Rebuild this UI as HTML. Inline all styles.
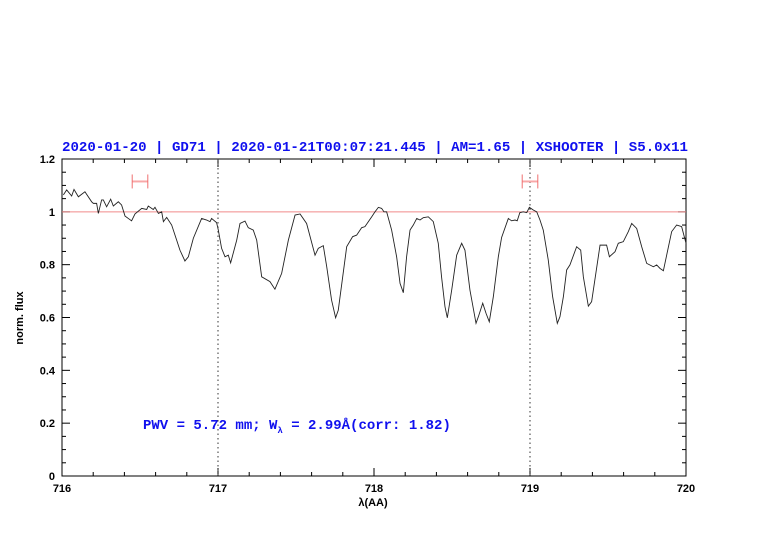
<!DOCTYPE html>
<html><head><meta charset="utf-8">
<style>
html,body{margin:0;padding:0;background:#fff;}
svg{display:block;}
</style></head>
<body>
<svg id="chart" width="782" height="542" viewBox="0 0 782 542" xmlns="http://www.w3.org/2000/svg" font-family="Liberation Sans, sans-serif">
<text x="62" y="151" fill="#1010ee" style="font-family:'Liberation Mono',monospace" font-size="14.2" font-weight="bold" textLength="626" lengthAdjust="spacingAndGlyphs">2020-01-20 | GD71 | 2020-01-21T00:07:21.445 | AM=1.65 | XSHOOTER | S5.0x11</text>
<text x="143" y="429" fill="#1010ee" style="font-family:'Liberation Mono',monospace" font-size="14" font-weight="bold">PWV = 5.72 mm; W<tspan font-size="9" dy="4">λ</tspan><tspan dy="-4"> = 2.99Å(corr: 1.82)</tspan></text>
<text x="373" y="506" text-anchor="middle" font-size="11" font-weight="bold">λ(AA)</text>
<text transform="translate(23,318) rotate(-90)" text-anchor="middle" font-size="11" font-weight="bold">norm. flux</text>
<g id="axes"></g>
<g id="marks"></g>
</svg>
<script>
const wavelengths=[716.009,716.030,716.062,716.077,716.105,716.147,716.190,716.201,716.222,716.233,716.254,716.265,716.286,716.312,716.329,716.361,716.382,716.404,716.446,716.468,716.511,716.543,716.553,716.585,716.596,716.618,716.639,716.650,716.671,716.703,716.735,716.756,716.788,716.810,716.842,716.895,716.927,716.949,716.959,716.991,717.002,717.023,717.045,717.066,717.081,717.120,717.141,717.173,717.194,717.226,717.248,717.280,717.333,717.365,717.408,717.451,717.494,717.526,717.568,717.622,717.643,717.675,717.697,717.728,717.754,717.771,717.825,717.863,717.889,717.921,717.942,717.985,718.006,718.028,718.049,718.064,718.081,718.113,718.145,718.167,718.188,718.209,718.231,718.252,718.274,718.295,718.316,718.348,718.380,718.412,718.433,718.455,718.470,718.498,718.530,718.562,718.583,718.615,718.654,718.669,718.697,718.718,718.739,718.765,718.797,718.818,718.861,718.882,718.904,718.918,718.935,718.957,718.979,718.996,719.021,719.043,719.064,719.085,719.117,719.145,719.175,719.192,719.214,719.235,719.256,719.299,719.325,719.342,719.374,719.395,719.449,719.491,719.509,719.545,719.566,719.598,719.630,719.652,719.684,719.716,719.748,719.791,719.812,719.833,719.855,719.876,719.908,719.940,719.972,720.000];
const fluxValues=[1.064,1.083,1.060,1.085,1.057,1.076,1.038,1.032,1.032,0.994,1.045,1.045,1.019,1.048,1.022,1.038,1.026,0.984,0.966,0.992,1.013,1.009,1.022,1.009,1.017,0.994,1.000,0.963,0.979,0.950,0.893,0.855,0.814,0.830,0.900,0.975,0.969,0.963,0.975,0.959,0.931,0.862,0.830,0.836,0.807,0.893,0.956,0.965,0.940,0.931,0.893,0.754,0.736,0.707,0.767,0.893,0.988,0.992,0.956,0.836,0.862,0.872,0.792,0.666,0.599,0.628,0.868,0.906,0.912,0.940,0.944,0.981,1.000,1.017,1.013,1.000,1.000,0.931,0.830,0.729,0.694,0.830,0.931,0.950,0.975,0.969,0.978,0.981,0.963,0.881,0.754,0.641,0.599,0.704,0.836,0.881,0.855,0.704,0.578,0.603,0.654,0.616,0.584,0.679,0.830,0.903,0.975,0.966,0.969,0.966,0.997,1.000,0.997,1.017,1.007,1.000,0.969,0.931,0.818,0.679,0.578,0.603,0.679,0.780,0.799,0.868,0.855,0.754,0.643,0.660,0.874,0.874,0.830,0.849,0.881,0.887,0.925,0.956,0.937,0.868,0.805,0.792,0.799,0.786,0.777,0.836,0.925,0.950,0.944,0.881];
const xTickLabels=["716","717","718","719","720"];
const yTickLabels=["0","0.2","0.4","0.6","0.8","1","1.2"];
const markerLines=[717,719];
const errorBarCenters=[716.5,719.0];
const errorBarHalfWidths=[0.05,0.05];
const errorBarLevel=[1.115,1.115];

const NS="http://www.w3.org/2000/svg";
const L=62,R=686,T=159,B=476;
const X=v=>L+(v-716)/4*(R-L);
const Y=v=>B-v/1.2*(B-T);
function mk(p,tag,attrs){const e=document.createElementNS(NS,tag);for(const k in attrs)e.setAttribute(k,attrs[k]);p.appendChild(e);return e;}
const axes=document.getElementById('axes'), marks=document.getElementById('marks');

let cl=mk(marks,'line',{x1:L,x2:R,y1:Y(1),y2:Y(1),stroke:'#f08a8a','stroke-width':1});


markerLines.forEach(m=>{
  const e=mk(marks,'line',{x1:X(m),x2:X(m),y1:T,y2:B,stroke:'#333','stroke-width':1,'stroke-dasharray':'1.5,3'});
  
  
});
errorBarCenters.forEach((c,i)=>{
  const g=mk(marks,'g',{stroke:'#f07070','stroke-width':1});
  
  
  const y=Y(errorBarLevel[i]),x1=X(c-errorBarHalfWidths[i]),x2=X(c+errorBarHalfWidths[i]);
  mk(g,'line',{x1:x1,x2:x2,y1:y,y2:y,stroke:'#f8a8a8','stroke-width':2});
  mk(g,'line',{x1:x1,x2:x1,y1:y-7,y2:y+7});
  mk(g,'line',{x1:x2,x2:x2,y1:y-7,y2:y+7});
});
let d=wavelengths.map((w,i)=>(i?'L':'M')+X(w).toFixed(2)+','+Y(fluxValues[i]).toFixed(2)).join('');
let sp=mk(marks,'path',{d:d,fill:'none',stroke:'#222','stroke-width':0.9});



let fr=mk(axes,'rect',{x:L,y:T,width:R-L,height:B-T,fill:'none',stroke:'#000','stroke-width':1});


for(let i=0;i<=20;i++){
  const v=716+i*0.2, x=X(v), major=i%5===0, len=major?8:4;
  mk(axes,'line',{x1:x,x2:x,y1:B,y2:B-len,stroke:'#000'});
  mk(axes,'line',{x1:x,x2:x,y1:T,y2:T+len,stroke:'#000'});
}
xTickLabels.forEach(t=>{
  const e=mk(axes,'text',{x:X(+t),y:B+16,'text-anchor':'middle','font-size':11,'font-weight':'bold'});
  e.textContent=t;
  
  
});
for(let i=0;i<=24;i++){
  const v=i*0.05, y=Y(v), major=i%4===0, len=major?8:4;
  mk(axes,'line',{x1:L,x2:L+len,y1:y,y2:y,stroke:'#000'});
  mk(axes,'line',{x1:R,x2:R-len,y1:y,y2:y,stroke:'#000'});
}
yTickLabels.forEach(t=>{
  const e=mk(axes,'text',{x:L-7,y:Y(+t)+4,'text-anchor':'end','font-size':11,'font-weight':'bold'});
  e.textContent=t;
  
  
});
</script>
</body></html>
